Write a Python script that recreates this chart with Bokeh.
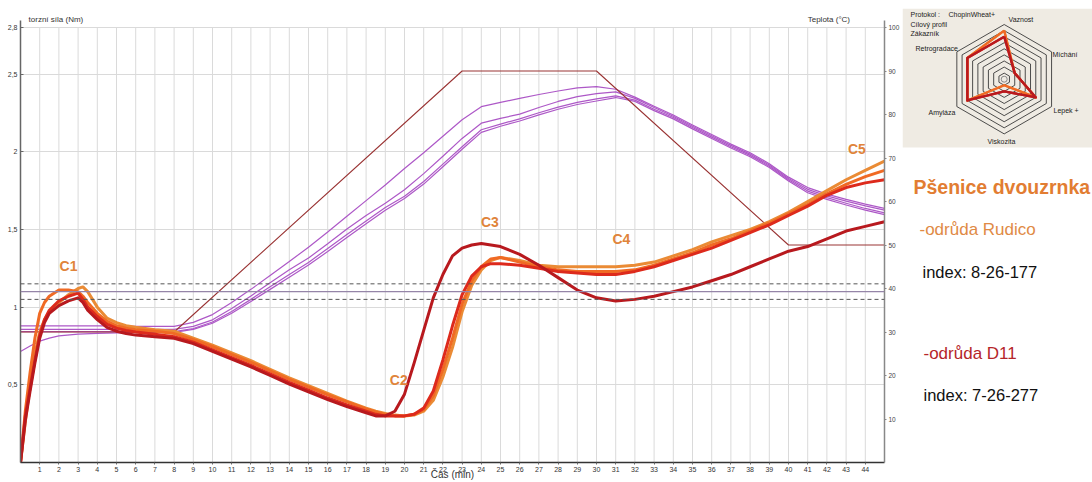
import math
from bokeh.plotting import figure
from bokeh.models import Range1d, LinearAxis, FixedTicker, Label, Span
from bokeh.layouts import row
from bokeh.embed import file_html
from bokeh.resources import INLINE

FONT = "Liberation Sans"

# ---------------- data ----------------
time_min = [0, 0.25, 0.5, 0.75, 1, 1.25, 1.5, 2, 2.5, 3, 3.25, 3.5, 4, 4.5, 5, 5.5, 6,
            7, 8, 9, 10, 11, 12, 13, 14, 15, 16, 17, 18, 18.5, 19, 19.5, 20, 20.5, 21,
            21.5, 22, 22.5, 23, 23.5, 24, 24.5, 25, 26, 27, 28, 29, 30, 31, 32, 33, 34,
            35, 36, 37, 38, 39, 40, 41, 42, 43, 44, 45]

torque_rudico_1 = [0, 0.26, 0.50, 0.70, 0.84, 0.92, 0.97, 1.03, 1.08, 1.12, 1.13, 1.10,
                   1.00, 0.93, 0.90, 0.88, 0.87, 0.855, 0.845, 0.80, 0.755, 0.705, 0.655,
                   0.60, 0.545, 0.495, 0.445, 0.395, 0.35, 0.33, 0.315, 0.305, 0.30, 0.305,
                   0.33, 0.40, 0.55, 0.74, 0.97, 1.14, 1.24, 1.30, 1.32, 1.30, 1.27, 1.26,
                   1.26, 1.26, 1.26, 1.27, 1.29, 1.33, 1.37, 1.42, 1.46, 1.50, 1.55, 1.61,
                   1.68, 1.75, 1.82, 1.88, 1.94]
torque_rudico_2 = [0, 0.33, 0.58, 0.80, 0.96, 1.03, 1.07, 1.11, 1.11, 1.10, 1.07, 1.03,
                   0.96, 0.91, 0.88, 0.865, 0.855, 0.845, 0.83, 0.79, 0.745, 0.695, 0.645,
                   0.59, 0.535, 0.485, 0.435, 0.39, 0.345, 0.325, 0.31, 0.30, 0.30, 0.31,
                   0.34, 0.43, 0.60, 0.80, 1.02, 1.17, 1.26, 1.31, 1.32, 1.29, 1.26, 1.24,
                   1.23, 1.23, 1.23, 1.24, 1.27, 1.31, 1.35, 1.40, 1.44, 1.49, 1.54, 1.60,
                   1.66, 1.73, 1.79, 1.84, 1.88]
torque_d11_1 = [0, 0.30, 0.48, 0.66, 0.82, 0.92, 0.98, 1.04, 1.07, 1.09, 1.05, 1.00,
                0.94, 0.89, 0.865, 0.85, 0.84, 0.825, 0.81, 0.775, 0.725, 0.675, 0.625,
                0.57, 0.515, 0.465, 0.415, 0.37, 0.33, 0.31, 0.30, 0.30, 0.30, 0.31,
                0.35, 0.46, 0.66, 0.88, 1.08, 1.20, 1.26, 1.28, 1.28, 1.27, 1.25, 1.23,
                1.22, 1.21, 1.21, 1.23, 1.26, 1.30, 1.34, 1.38, 1.43, 1.48, 1.53, 1.59,
                1.65, 1.72, 1.77, 1.80, 1.82]
torque_d11_2 = [0, 0.27, 0.46, 0.64, 0.80, 0.90, 0.96, 1.01, 1.04, 1.06, 1.03, 0.98,
                0.92, 0.87, 0.845, 0.83, 0.82, 0.81, 0.80, 0.765, 0.715, 0.665, 0.615,
                0.56, 0.505, 0.455, 0.405, 0.36, 0.32, 0.30, 0.30, 0.33, 0.44, 0.64,
                0.85, 1.06, 1.21, 1.33, 1.38, 1.40, 1.41, 1.40, 1.39, 1.34, 1.27, 1.19,
                1.11, 1.06, 1.04, 1.05, 1.07, 1.10, 1.13, 1.17, 1.21, 1.26, 1.31, 1.36,
                1.39, 1.44, 1.49, 1.52, 1.55]

dough_time = [0, 0.5, 1, 1.5, 2, 3, 4, 5, 6, 7, 8, 9, 10, 11, 12, 13, 14, 15, 16, 17,
              18, 19, 20, 21, 22, 23, 24, 25, 26, 27, 28, 29, 30, 31, 32, 33, 34, 35,
              36, 37, 38, 39, 40, 41, 42, 43, 44, 45]
dough_temp_1 = [31.4, 31.4, 31.4, 31.4, 31.4, 31.4, 31.4, 31.4, 31.3, 31.3, 31.3,
                32.2, 34.0, 36.8, 39.8, 43.0, 46.2, 49.5, 53.0, 56.6, 60.2,
                63.8, 67.6, 71.2, 75.0, 78.8, 81.8, 82.8, 83.7, 84.6, 85.4, 86.1, 86.4,
                85.8, 84.0, 81.9, 79.9, 77.6, 75.4, 73.2, 71.2, 68.7, 65.6, 63.2, 61.7,
                60.5, 59.4, 58.4]
dough_temp_2 = [30.6, 30.6, 30.6, 30.6, 30.6, 30.6, 30.6, 30.6, 30.6, 30.6, 30.6,
                31.3, 32.8, 35.4, 38.3, 41.3, 44.3, 47.0, 50.3, 53.7, 56.8,
                59.6, 62.7, 66.4, 70.4, 74.5, 78.0, 79.1, 80.1, 81.6, 83.0, 84.1, 84.8,
                85.2, 83.7, 81.6, 79.6, 77.3, 75.1, 72.9, 70.9, 68.4, 65.3, 62.8, 61.3,
                60.1, 59.0, 58.0]
dough_temp_3 = [30.1, 30.1, 30.1, 30.1, 30.1, 30.1, 30.1, 30.1, 30.1, 30.1, 30.1,
                30.8, 32.3, 34.7, 37.5, 40.4, 43.2, 46.0, 49.2, 52.4, 55.5,
                58.6, 61.2, 64.6, 68.6, 72.6, 76.5, 77.8, 79.0, 80.4, 81.7, 82.8, 83.6,
                84.3, 83.3, 81.2, 79.3, 77.0, 74.8, 72.6, 70.6, 68.1, 65.0, 62.4, 60.9,
                59.6, 58.4, 57.4]
dough_temp_4 = [25.5, 26.8, 27.9, 28.6, 29.1, 29.5, 29.7, 29.8, 29.9, 29.9, 29.9,
                30.6, 32.0, 34.3, 37.0, 39.8, 42.6, 45.4, 48.5, 51.7, 54.9,
                58.0, 60.7, 64.0, 68.0, 72.0, 75.9, 77.3, 78.5, 79.9, 81.2, 82.3, 83.1,
                83.9, 83.0, 80.9, 79.0, 76.7, 74.5, 72.3, 70.3, 67.8, 64.7, 62.0, 60.5,
                59.2, 58.0, 57.0]

setpoint_time = [0, 8, 23, 30, 40, 45]
setpoint_temp = [30, 30, 90, 90, 50, 50]

ref_levels_dashed = [1.05, 1.15]
ref_level_solid = 1.10

y_ticks = [0.5, 1, 1.5, 2, 2.5, 2.8]
y_tick_labels = ["0,5", "1", "1,5", "2", "2,5", "2,8"]
x_ticks = list(range(1, 45))
temp_ticks = [10, 20, 30, 40, 50, 60, 70, 80, 90, 100]

phase_names = ["C1", "C2", "C3", "C4", "C5"]

radar_axes = ["Vaznost", "Míchání", "Lepek +", "Viskozita", "Amyláza", "Retrogradace"]
radar_rudico = [8, 2, 6, 1, 7, 7]
radar_d11 = [7, 2, 6, 2, 7, 7]
radar_max = 9

for s in (torque_rudico_1, torque_rudico_2, torque_d11_1, torque_d11_2):
    assert len(s) == len(time_min)
for s in (dough_temp_1, dough_temp_2, dough_temp_3, dough_temp_4):
    assert len(s) == len(dough_time)

# ---------------- styles ----------------
COL_A = "#ea8b35"
COL_B = "#f06a24"
COL_C = "#dd2a1c"
COL_D = "#b8191e"
COL_PURPLE = "#a94fc4"
COL_SET = "#9a3434"
COL_GRID = "#dadada"
COL_LABEL = "#e0843a"

# ---------------- main chart ----------------
# frame (page px): left 20, right 885, top 8, bottom 462
FRAME_TOP, FRAME_BOTTOM = 8, 462
S_Y = (FRAME_BOTTOM - 27) / 2.8
Y_END = 2.8 + (27 - FRAME_TOP) / S_Y

p = figure(width=902, height=482, x_range=Range1d(0, 45), y_range=Range1d(0, Y_END),
           output_backend="svg", toolbar_location=None,
           min_border_left=20, min_border_right=17, min_border_top=FRAME_TOP,
           min_border_bottom=482 - FRAME_BOTTOM)
p.outline_line_color = None
p.extra_y_ranges = {"temp": Range1d(0, Y_END / 2.8 * 100)}

xa = p.xaxis[0]
xa.ticker = FixedTicker(ticks=x_ticks)
xa.major_label_text_font_size = "7px"
xa.major_label_text_font = FONT
xa.major_label_text_color = "#333333"
xa.axis_line_color = "#333333"
xa.axis_line_width = 1.5
xa.major_tick_in = 0
xa.major_tick_out = 2
xa.major_tick_line_color = "#666666"
xa.major_label_standoff = 2
xa.minor_tick_line_color = None
xa.axis_label = "Čas (min)"
xa.axis_label_text_font = FONT
xa.axis_label_text_font_style = "normal"
xa.axis_label_text_font_size = "10px"
xa.axis_label_text_color = "#333333"
xa.axis_label_standoff = -6

ya = p.yaxis[0]
ya.ticker = FixedTicker(ticks=y_ticks)
ya.major_label_overrides = {float(t): lab for t, lab in zip(y_ticks, y_tick_labels)}
ya.major_label_text_font_size = "7px"
ya.major_label_text_font = FONT
ya.major_label_text_color = "#333333"
ya.axis_line_color = "#666666"
ya.axis_line_width = 1.5
ya.major_tick_in = 3
ya.major_tick_out = 0
ya.major_tick_line_color = "#666666"
ya.major_label_standoff = 3
ya.minor_tick_line_color = None
ya.bounds = (0, 2.845)

ra = LinearAxis(y_range_name="temp", ticker=FixedTicker(ticks=temp_ticks), bounds=(0, 101.6))
ra.major_label_text_font_size = "6.5px"
ra.major_label_text_font = FONT
ra.major_label_text_color = "#444444"
ra.axis_line_color = "#888888"
ra.axis_line_width = 1.5
ra.major_tick_in = 0
ra.major_tick_out = 2
ra.major_tick_line_color = "#888888"
ra.major_label_standoff = 2
ra.minor_tick_line_color = None
p.add_layout(ra, "right")

p.xgrid.visible = False
p.ygrid.ticker = FixedTicker(ticks=y_ticks)
p.ygrid.grid_line_color = COL_GRID
p.segment(x0=x_ticks, y0=[0] * len(x_ticks), x1=x_ticks, y1=[2.8] * len(x_ticks),
          line_color=COL_GRID, line_width=1)

for lv in ref_levels_dashed:
    p.add_layout(Span(location=lv, dimension="width", line_color="#555555",
                      line_width=1, line_dash="4 3"))
p.add_layout(Span(location=ref_level_solid, dimension="width", line_color="#9585a8",
                  line_width=1.3))

for dt in (dough_temp_4, dough_temp_3, dough_temp_2, dough_temp_1):
    p.line(dough_time, dt, y_range_name="temp", line_color=COL_PURPLE, line_width=1.2,
           line_alpha=0.95)
p.line(setpoint_time, setpoint_temp, y_range_name="temp", line_color=COL_SET, line_width=1.1)

for series, col in ((torque_rudico_1, COL_A), (torque_rudico_2, COL_B),
                    (torque_d11_1, COL_C), (torque_d11_2, COL_D)):
    p.line(time_min, series, line_color=col, line_width=3, line_join="round")

phase_pos = {"C1": (2.5, 1.263), "C2": (19.7, 0.53), "C3": (24.45, 1.545),
             "C4": (31.3, 1.436), "C5": (43.56, 2.02)}
for name in phase_names:
    x, y = phase_pos[name]
    p.add_layout(Label(x=x, y=y, text=name, text_font=FONT, text_font_style="bold",
                       text_font_size="14px", text_color=COL_LABEL,
                       text_align="center", text_baseline="middle"))

p.add_layout(Label(x=0.42, y=2.851, text="torzní síla (Nm)", text_font=FONT,
                   text_font_size="8px", text_color="#333333", text_baseline="middle"))
p.add_layout(Label(x=41.0, y=2.851, text="Teplota (°C)", text_font=FONT,
                   text_font_size="8px", text_color="#333333", text_baseline="middle"))

# ---------------- right panel (its frame is aligned with the main frame) ----------------
p2 = figure(width=190, height=482, x_range=Range1d(902, 1092),
            y_range=Range1d(FRAME_BOTTOM, FRAME_TOP),
            output_backend="svg", toolbar_location=None,
            min_border_left=0, min_border_right=0, min_border_top=FRAME_TOP,
            min_border_bottom=482 - FRAME_BOTTOM,
            x_axis_type=None, y_axis_type=None, title=None)
p2.outline_line_color = None
for g in p2.grid:
    g.visible = False

p2.quad(left=[902], right=[1092], top=[8], bottom=[147], fill_color="#efebe3",
        line_color=None)

CX, CY, R = 1003.7, 78.7, 54.7
angles = [math.radians(90 - 60 * i) for i in range(len(radar_axes))]


def radar_xy(vals):
    xs = [CX + v / radar_max * R * math.cos(a) for v, a in zip(vals, angles)]
    ys = [CY - v / radar_max * R * math.sin(a) for v, a in zip(vals, angles)]
    return xs + xs[:1], ys + ys[:1]


for k in range(1, radar_max + 1):
    xs, ys = radar_xy([k] * len(radar_axes))
    p2.line(xs, ys, line_color="#3a3a3a", line_width=0.9)
p2.scatter([CX], [CY], size=6, marker="circle", fill_color=None, line_color="#888888")

for vals, col in ((radar_rudico, COL_A), (radar_rudico, COL_B),
                  (radar_d11, COL_C), (radar_d11, COL_D)):
    xs, ys = radar_xy(vals)
    p2.line(xs, ys, line_color=col, line_width=2.3, line_join="round")

small = dict(text_font=FONT, text_font_size="7px", text_color="#222222",
             text_baseline="middle")
for txt, x, y in (("Protokol :", 910, 14), ("ChopinWheat+", 948, 14),
                  ("Cílový profil", 910, 24), ("Zákazník", 910, 33)):
    p2.add_layout(Label(x=x, y=y, text=txt, **small))
radar_label_pos = {"Vaznost": (1008, 19), "Míchání": (1052, 54), "Lepek +": (1053, 110),
                   "Viskozita": (987, 141), "Amyláza": (928, 112),
                   "Retrogradace": (915, 48)}
for name in radar_axes:
    x, y = radar_label_pos[name]
    p2.add_layout(Label(x=x, y=y, text=name, **small))

p2.add_layout(Label(x=913, y=186, text="Pšenice dvouzrnka", text_font=FONT,
                    text_font_style="bold", text_font_size="19.5px", text_color="#e27d32",
                    text_baseline="alphabetic"))
p2.add_layout(Label(x=919, y=229, text="-odrůda Rudico", text_font=FONT,
                    text_font_size="17px", text_color="#e08a45",
                    text_baseline="alphabetic"))
p2.add_layout(Label(x=922, y=271, text="index: 8-26-177", text_font=FONT,
                    text_font_size="16.5px", text_color="#111111",
                    text_baseline="alphabetic"))
p2.add_layout(Label(x=923, y=353, text="-odrůda D11", text_font=FONT,
                    text_font_size="17px", text_color="#b5252a",
                    text_baseline="alphabetic"))
p2.add_layout(Label(x=923, y=394, text="index: 7-26-277", text_font=FONT,
                    text_font_size="16.5px", text_color="#111111",
                    text_baseline="alphabetic"))

layout = row(p, p2)
open("out.html", "w").write(file_html(layout, INLINE))
